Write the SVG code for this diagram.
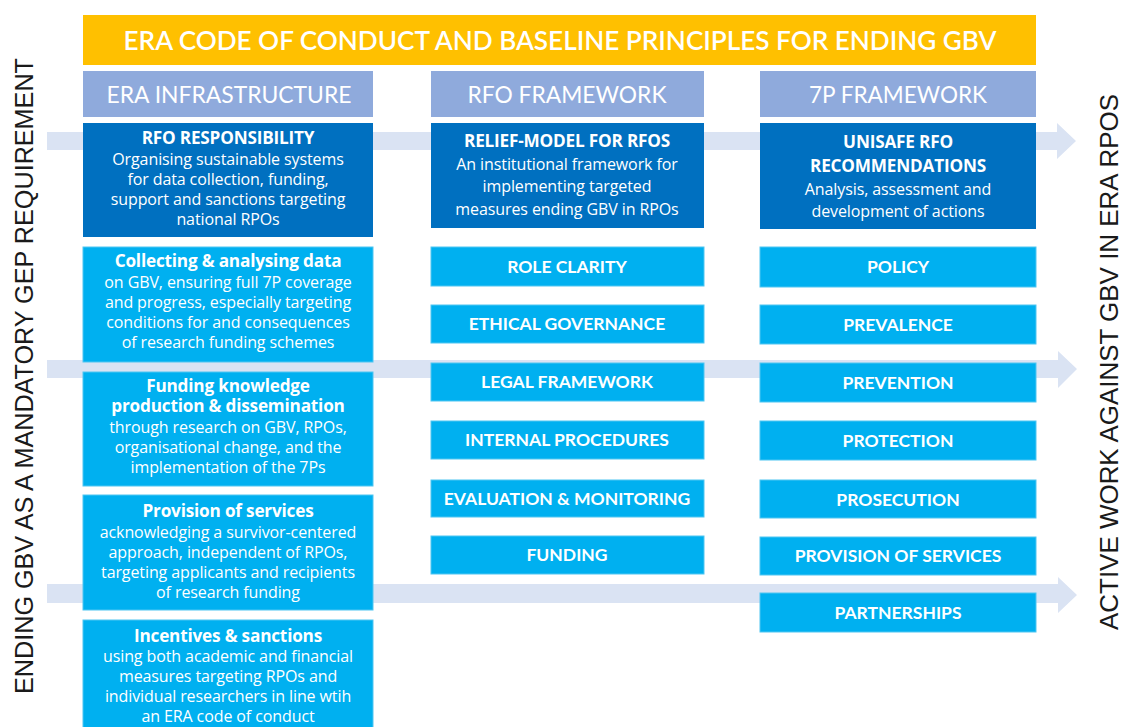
<svg xmlns="http://www.w3.org/2000/svg" width="1122" height="727" viewBox="0 0 1122 727">
<style>
.t{font-family:Lato,"Liberation Sans",sans-serif;fill:#fff;text-anchor:middle}
.ttl{font-family:"Open Sans",Lato,sans-serif;font-size:17.2px;font-weight:bold;letter-spacing:-0.2px}
.body{font-family:"Open Sans",Lato,sans-serif;font-size:16px;letter-spacing:-0.1px}
.lbl{font-size:17.5px;font-weight:bold}
.hdr{font-size:24px}
.dark{fill:#0070C0}
.light{fill:#00B0F0;stroke:#4FC6F2;stroke-width:1}
.head{fill:#8FAADC}
.arr{fill:#DAE3F3}
.side{font-family:"Liberation Sans",Arial,sans-serif;font-size:25px;fill:#1a1a1a}
</style>
<rect width="1122" height="727" fill="#fff"/>
<g id="connectors">
<polygon class="arr" points="47,132 1057,132 1057,123 1076,141 1057,159 1057,150 47,150"/>
<polygon class="arr" points="47,360 1058,360 1058,351 1077,369 1058,388 1058,378 47,378"/>
<polygon class="arr" points="47,584 1058,584 1058,577 1077,595 1058,613 1058,603 47,603"/>
</g>
<g id="side-left"><text class="side" transform="translate(33,694) rotate(-90)" textLength="636" lengthAdjust="spacingAndGlyphs">ENDING GBV AS A MANDATORY GEP REQUIREMENT</text></g>
<g id="side-right"><text class="side" transform="translate(1118,630) rotate(-90)" textLength="536" lengthAdjust="spacingAndGlyphs">ACTIVE WORK AGAINST GBV IN ERA RPOS</text></g>
<g id="banner"><rect x="83" y="15" width="953" height="50" fill="#FFC000"/><text class="t" x="560" y="50" font-size="26" font-weight="600" textLength="873" lengthAdjust="spacingAndGlyphs">ERA CODE OF CONDUCT AND BASELINE PRINCIPLES FOR ENDING GBV</text></g>
<g id="hdr-era"><rect class="head" x="83" y="71" width="290" height="46"/><text class="t hdr" x="229" y="103" textLength="245" lengthAdjust="spacingAndGlyphs">ERA INFRASTRUCTURE</text></g>
<g id="hdr-rfo"><rect class="head" x="431" y="71" width="273" height="46"/><text class="t hdr" x="567" y="103" textLength="199" lengthAdjust="spacingAndGlyphs">RFO FRAMEWORK</text></g>
<g id="hdr-7p"><rect class="head" x="760" y="71" width="276" height="46"/><text class="t hdr" x="898" y="103" textLength="178" lengthAdjust="spacingAndGlyphs">7P FRAMEWORK</text></g>
<g id="rfo-resp"><rect class="dark" x="83" y="123" width="290" height="114"/>
<text class="t ttl" x="228" y="144">RFO RESPONSIBILITY</text>
<text class="t body" x="228" y="165">Organising sustainable systems</text>
<text class="t body" x="228" y="185">for data collection, funding,</text>
<text class="t body" x="228" y="205">support and sanctions targeting</text>
<text class="t body" x="228" y="225">national RPOs</text></g>
<g id="relief"><rect class="dark" x="431" y="123" width="273" height="105"/>
<text class="t ttl" x="567" y="147">RELIEF-MODEL FOR RFOS</text>
<text class="t body" x="567" y="170">An institutional framework for</text>
<text class="t body" x="567" y="192">implementing targeted</text>
<text class="t body" x="567" y="215">measures ending GBV in RPOs</text></g>
<g id="unisafe"><rect class="dark" x="760" y="123" width="276" height="106"/>
<text class="t ttl" x="898" y="148">UNISAFE RFO</text>
<text class="t ttl" x="898" y="172">RECOMMENDATIONS</text>
<text class="t body" x="898" y="195">Analysis, assessment and</text>
<text class="t body" x="898" y="217">development of actions</text></g>
<g id="collecting"><rect class="light" x="83" y="247" width="290" height="115"/>
<text class="t ttl" x="228" y="267">Collecting &amp; analysing data</text>
<text class="t body" x="228" y="288">on GBV, ensuring full 7P coverage</text>
<text class="t body" x="228" y="308">and progress, especially targeting</text>
<text class="t body" x="228" y="328">conditions for and consequences</text>
<text class="t body" x="228" y="348">of research funding schemes</text></g>
<g id="funding-knowledge"><rect class="light" x="83" y="372" width="290" height="114"/>
<text class="t ttl" x="228" y="392">Funding knowledge</text>
<text class="t ttl" x="228" y="412">production &amp; dissemination</text>
<text class="t body" x="228" y="433">through research on GBV, RPOs,</text>
<text class="t body" x="228" y="453">organisational change, and the</text>
<text class="t body" x="228" y="473">implementation of the 7Ps</text></g>
<g id="provision"><rect class="light" x="83" y="495" width="290" height="115"/>
<text class="t ttl" x="228" y="517">Provision of services</text>
<text class="t body" x="228" y="538">acknowledging a survivor-centered</text>
<text class="t body" x="228" y="558">approach, independent of RPOs,</text>
<text class="t body" x="228" y="578">targeting applicants and recipients</text>
<text class="t body" x="228" y="598">of research funding</text></g>
<g id="incentives"><rect class="light" x="83" y="620" width="290" height="110"/>
<text class="t ttl" x="228" y="642">Incentives &amp; sanctions</text>
<text class="t body" x="228" y="662">using both academic and financial</text>
<text class="t body" x="228" y="682">measures targeting RPOs and</text>
<text class="t body" x="228" y="702">individual researchers in line wtih</text>
<text class="t body" x="228" y="722">an ERA code of conduct</text></g>
<g id="role-clarity"><rect class="light" x="431" y="247" width="273" height="39"/><text class="t lbl" x="567" y="273">ROLE CLARITY</text></g>
<g id="ethical"><rect class="light" x="431" y="305" width="273" height="38"/><text class="t lbl" x="567" y="330">ETHICAL GOVERNANCE</text></g>
<g id="legal"><rect class="light" x="431" y="363" width="273" height="38"/><text class="t lbl" x="567" y="388">LEGAL FRAMEWORK</text></g>
<g id="internal"><rect class="light" x="431" y="421" width="273" height="38"/><text class="t lbl" x="567" y="446">INTERNAL PROCEDURES</text></g>
<g id="evaluation"><rect class="light" x="431" y="480" width="273" height="37"/><text class="t lbl" x="567" y="505">EVALUATION &amp; MONITORING</text></g>
<g id="funding"><rect class="light" x="431" y="536" width="273" height="38"/><text class="t lbl" x="567" y="561">FUNDING</text></g>
<g id="policy"><rect class="light" x="760" y="247" width="276" height="40"/><text class="t lbl" x="898" y="273">POLICY</text></g>
<g id="prevalence"><rect class="light" x="760" y="305" width="276" height="39"/><text class="t lbl" x="898" y="331">PREVALENCE</text></g>
<g id="prevention"><rect class="light" x="760" y="363" width="276" height="39"/><text class="t lbl" x="898" y="389">PREVENTION</text></g>
<g id="protection"><rect class="light" x="760" y="421" width="276" height="39"/><text class="t lbl" x="898" y="447">PROTECTION</text></g>
<g id="prosecution"><rect class="light" x="760" y="480" width="276" height="38"/><text class="t lbl" x="898" y="506">PROSECUTION</text></g>
<g id="provision-services"><rect class="light" x="760" y="537" width="276" height="38"/><text class="t lbl" x="898" y="562">PROVISION OF SERVICES</text></g>
<g id="partnerships"><rect class="light" x="760" y="593" width="276" height="39"/><text class="t lbl" x="898" y="619">PARTNERSHIPS</text></g>
</svg>
